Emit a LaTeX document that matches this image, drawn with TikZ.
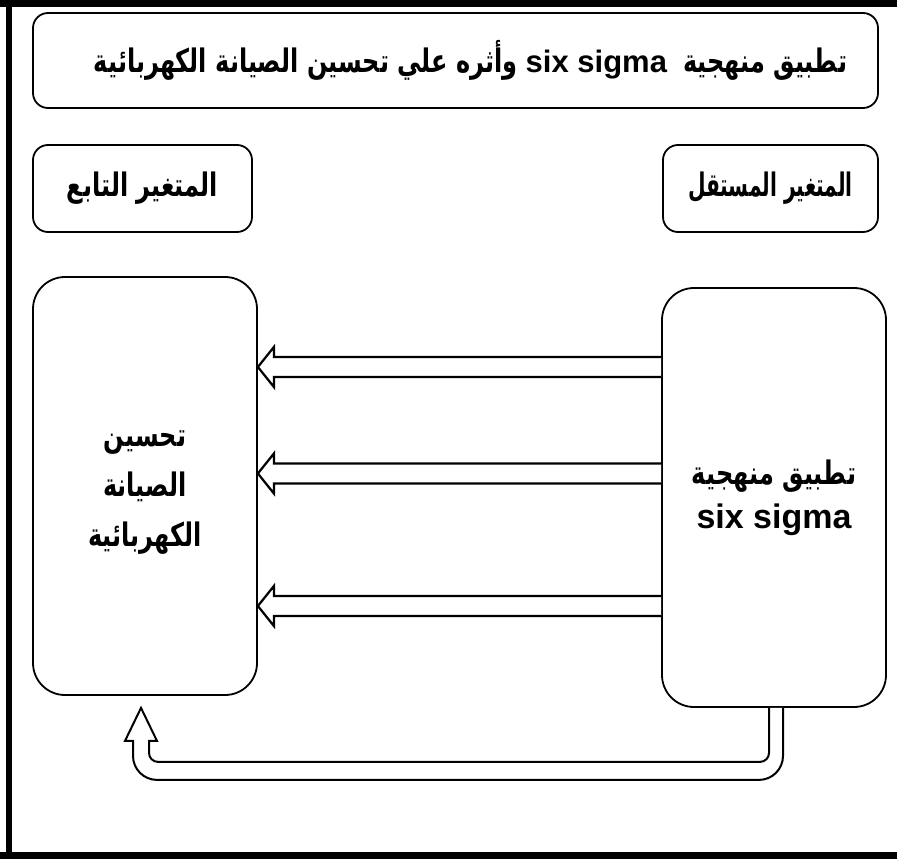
\documentclass[tikz,border=0pt]{standalone}
\usepackage{fontspec}
\usepackage{graphicx}
\usetikzlibrary{calc}
\TeXXeTstate=1
\newfontfamily\arabicfont[Script=Arabic]{DejaVu Sans}
\newfontfamily\latfont{Liberation Sans}
\newcommand\artext[2][1]{\scalebox{#1}[1.35]{\beginR#2\endR}}
\begin{document}
\begin{tikzpicture}[x=1pt,y=-1pt,
  box/.style={draw=black,line width=1.8pt,rounded corners=15pt,fill=white,inner sep=0pt,align=center},
  bigbox/.style={box,rounded corners=32pt},
  hollow/.style={draw=black,line width=2.2pt,fill=white,line join=miter},
  frameline/.style={line width=7pt,draw=black},
  artxt/.style={font=\arabicfont\bfseries\fontsize{24}{50}\selectfont}
]
\useasboundingbox (0,0) rectangle (897,859);
% frame
\draw[frameline] (0,3.5) -- (897,3.5);
\draw[line width=6pt] (9,0) -- (9,859);
\draw[frameline] (0,855.5) -- (897,855.5);

% title (right-to-left order set by hand: last words leftmost)
\node[box,minimum width=845pt,minimum height=95pt,artxt] (title) at (455.5,60.5)
  {\hspace*{30pt}\artext{وأثره علي تحسين الصيانة الكهربائية}\hspace{8pt}{\latfont\bfseries\fontsize{31}{36}\selectfont six sigma}\hspace{16pt}\artext{تطبيق منهجية}};

% header boxes
\node[box,minimum width=219pt,minimum height=87pt,artxt] (deph) at (142.5,188.5)
  {\artext{المتغير التابع}};
\node[box,minimum width=215pt,minimum height=87pt,artxt] (indh) at (770.5,188.5)
  {\artext[0.84]{المتغير المستقل}};

% big boxes
\node[bigbox,minimum width=224pt,minimum height=418pt,artxt] (dep) at (145,486)
  {\\[-22pt]\artext{تحسين}\\ \artext{الصيانة}\\ \artext{الكهربائية}};
\node[bigbox,minimum width=224pt,minimum height=419pt,artxt] (ind) at (774,497.5)
  {\artext{تطبيق منهجية}\\[-6pt] {\latfont\bfseries\fontsize{34}{38}\selectfont six sigma}};

% horizontal hollow arrows
\foreach \yy/\nm in {367/a1,473.5/a2,606/a3}{
  \coordinate (\nm s) at (ind.west |- 0,\yy);
  \coordinate (\nm t) at (dep.east |- 0,\yy);
  \draw[hollow] ($(\nm s)+(0,-10)$) -- ($(\nm t)+(16,-10)$) -- ($(\nm t)+(16,-20)$) -- (\nm t)
     -- ($(\nm t)+(16,20)$) -- ($(\nm t)+(16,10)$) -- ($(\nm s)+(0,10)$);
}

% feedback U arrow
\coordinate (us) at (ind.south -| 776,0);
\coordinate (ut) at (dep.south -| 141,0);
\draw[hollow,line width=2pt]
  ($(us)+(-7,0)$) [rounded corners=9pt] -- ($(us)+(-7,54)$) -- ($(ut)+(8,66)$) [sharp corners] -- ($(ut)+(8,45)$)
  -- ($(ut)+(16,45)$) -- ($(ut)+(0,12)$) -- ($(ut)+(-16,45)$) -- ($(ut)+(-8,45)$)
  [rounded corners=24pt] -- ($(ut)+(-8,84)$) -- ($(us)+(7,72)$) [sharp corners] -- ($(us)+(7,0)$);
\end{tikzpicture}
\end{document}
